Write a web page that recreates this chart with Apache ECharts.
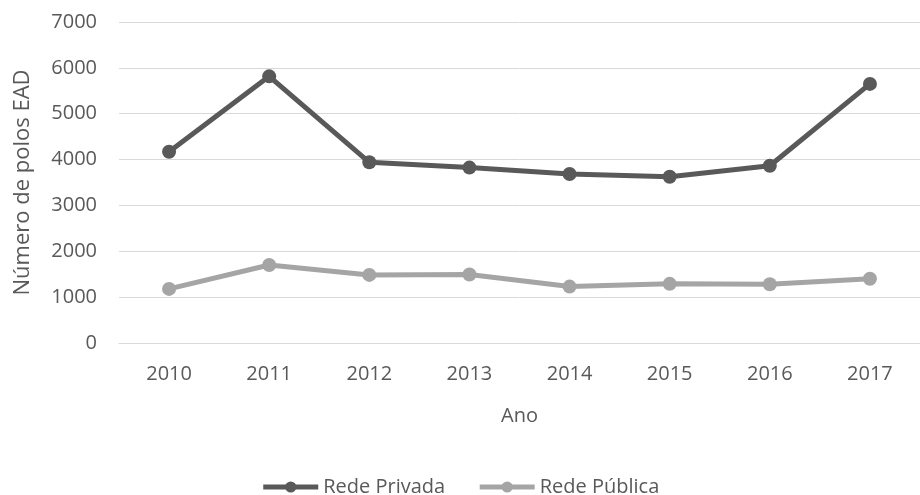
<!DOCTYPE html>
<html>
<head>
<meta charset="utf-8">
<script src="https://cdn.jsdelivr.net/npm/echarts@6/dist/echarts.min.js"></script>
<style>
  html, body { margin: 0; padding: 0; background: #fff; }
  #chart { width: 920px; height: 495px; }
</style>
</head>
<body>
<div id="chart"></div>
<script>
// dados
const anos = ['2010', '2011', '2012', '2013', '2014', '2015', '2016', '2017'];
const redePrivada = [4170, 5815, 3940, 3825, 3685, 3625, 3865, 5650];
const redePublica = [1180, 1700, 1485, 1495, 1230, 1290, 1280, 1400];

const fonte = 'Open Sans';
const corTexto = '#595959';

const myChart = echarts.init(document.getElementById('chart'));
const option = {
    animation: false,
    textStyle: { fontFamily: fonte },
    grid: {
        left: 119,
        top: 22,
        width: 809,
        height: 321,
        containLabel: false
    },
    legend: {
        top: 472,
        left: 'center',
        itemWidth: 55,
        itemHeight: 14,
        itemGap: 32,
        textStyle: { fontSize: 20, color: corTexto, fontFamily: fonte },
        lineStyle: { width: 5 },
        data: ['Rede Privada', 'Rede Pública']
    },
    xAxis: {
        type: 'category',
        data: anos,
        name: 'Ano',
        nameLocation: 'middle',
        nameGap: 63,
        nameTextStyle: { fontSize: 20, color: corTexto },
        axisLine: { lineStyle: { color: '#d9d9d9', width: 1 } },
        axisTick: { show: false },
        axisLabel: { fontSize: 20, color: corTexto, margin: 21 }
    },
    yAxis: {
        type: 'value',
        min: 0,
        max: 7000,
        interval: 1000,
        name: 'Número de polos EAD',
        nameLocation: 'middle',
        nameGap: 85,
        nameTextStyle: { fontSize: 22, color: corTexto },
        axisLine: { show: false },
        axisTick: { show: false },
        axisLabel: {
            fontSize: 20,
            color: corTexto,
            margin: 22,
            formatter: function (v) { return String(v); }
        },
        splitLine: { lineStyle: { color: '#d9d9d9', width: 1 } }
    },
    series: [
        {
            name: 'Rede Privada',
            type: 'line',
            data: redePrivada,
            symbol: 'circle',
            symbolSize: 14,
            itemStyle: { color: '#595959' },
            lineStyle: { color: '#595959', width: 5 }
        },
        {
            name: 'Rede Pública',
            type: 'line',
            data: redePublica,
            symbol: 'circle',
            symbolSize: 14,
            itemStyle: { color: '#a5a5a5' },
            lineStyle: { color: '#a5a5a5', width: 5 }
        }
    ]
};
myChart.setOption(option);
</script>
</body>
</html>
